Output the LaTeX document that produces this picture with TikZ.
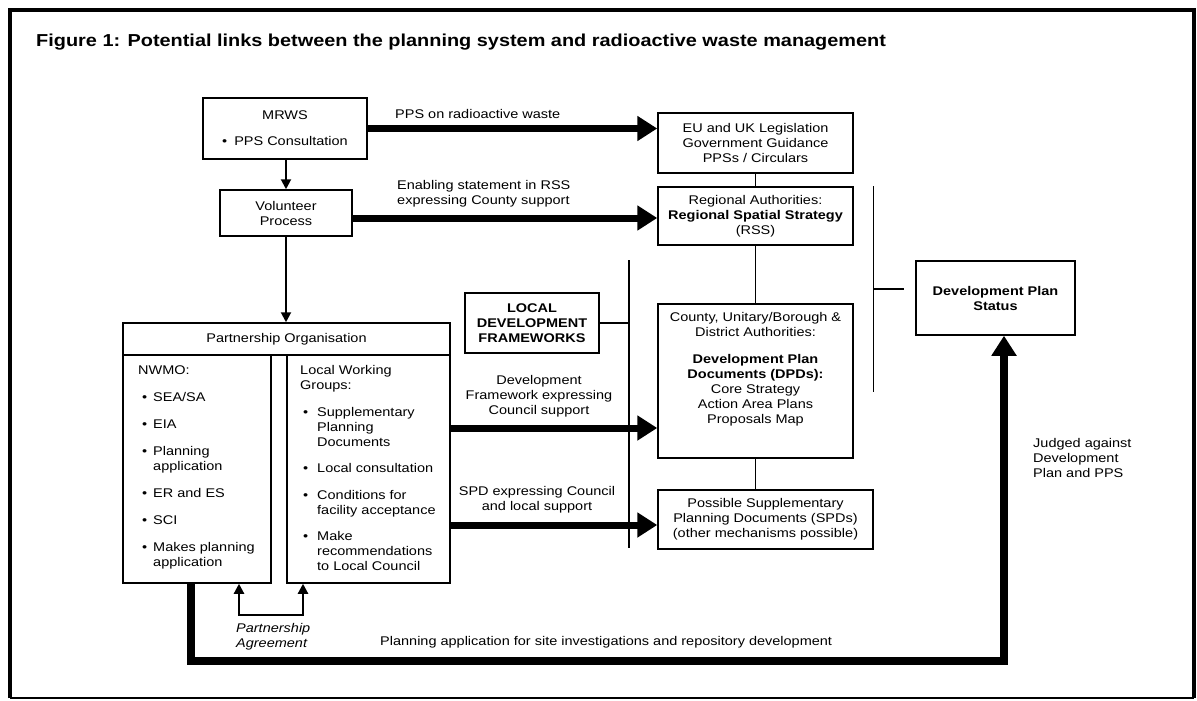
\documentclass[tikz,border=0pt]{standalone}
\usepackage{fontspec}
\setmainfont{Liberation Sans}[FakeStretch=1.15]
\usetikzlibrary{arrows.meta,calc}
\newcommand\bulA{\hspace*{4pt}\makebox[11pt][l]{•}}
\newcommand\indA{\hspace*{15pt}}
\newcommand\bulB{\hspace*{3pt}\makebox[14pt][l]{•}}
\newcommand\indB{\hspace*{17pt}}
\tikzset{
  box/.style={draw, line width=1.5pt, inner sep=0pt, align=center},
  thickarrow/.style={line width=7pt, line join=miter, -{Triangle[length=20pt,width=24pt]}},
  thinarrow/.style={line width=2pt, -{Triangle[length=10pt,width=10pt]}},
  conn/.style={line width=1.4pt},
  lbl/.style={inner sep=0pt},
}
\begin{document}
\begin{tikzpicture}[x=1pt,y=-1pt]
\fontsize{12.6pt}{15pt}\selectfont
\useasboundingbox (0,0) rectangle (1197,701);
% frame
\draw[line width=4pt] (10,698) -- (10,10) -- (1194,10) -- (1194,698);
\draw[line width=2pt] (10,698) -- (1194,698);
% title
\node[lbl, anchor=base west, font=\fontsize{17.3pt}{20pt}\selectfont\bfseries] (title) at (36,47)
  {Figure 1: Potential links between the planning system and radioactive waste management};
% boxes
\node[box, minimum width=164pt, minimum height=61pt] (mrws) at (285,128.5) {MRWS\\[11pt]•\hspace{7pt}PPS Consultation};
\node[box, minimum width=195pt, minimum height=60pt] (eu) at (755.5,143) {EU and UK Legislation\\Government Guidance\\PPSs / Circulars};
\node[box, minimum width=132pt, minimum height=46pt] (vol) at (286,213) {Volunteer\\Process};
\node[box, minimum width=195pt, minimum height=58pt] (rss) at (755.5,216) {Regional Authorities:\\\textbf{Regional Spatial Strategy}\\(RSS)};
\node[box, minimum width=134pt, minimum height=60pt, font=\bfseries] (ldf) at (532,323) {LOCAL\\DEVELOPMENT\\FRAMEWORKS};
\node[box, minimum width=195pt, minimum height=154pt] (county) at (755.5,381) {};
\node[lbl, anchor=north, align=center] (countytxt) at (755.5,312.5)
  {County, Unitary/Borough \&\\District Authorities:\\[12pt]\textbf{Development Plan}\hspace*{30pt}\\\textbf{Documents (DPDs):}\\Core Strategy\\Action Area Plans\\Proposals Map};
\node[box, minimum width=215pt, minimum height=59pt] (spd) at (765.5,519.5) {Possible Supplementary\\Planning Documents (SPDs)\\(other mechanisms possible)};
\node[box, minimum width=159pt, minimum height=74pt, font=\bfseries] (dps) at (995.5,298) {Development Plan\\Status};
\node[box, minimum width=327pt, minimum height=32pt] (po) at (286.5,339) {Partnership Organisation};
\node[box, minimum width=148pt, minimum height=228pt] (nwmo) at (197,469) {};
\node[box, minimum width=163pt, minimum height=228pt] (lwg) at (368.5,469) {};
\node[lbl, anchor=north west, align=left] (nwmotxt) at (138,365)
  {NWMO:\\[12pt]\bulA SEA/SA\\[12pt]\bulA EIA\\[12pt]\bulA Planning\\\indA application\\[12pt]\bulA ER and ES\\[12pt]\bulA SCI\\[12pt]\bulA Makes planning\\\indA application};
\node[lbl, anchor=north west, align=left] (lwgtxt) at (300,365)
  {Local Working\\Groups:\\[12pt]\bulB Supplementary\\\indB Planning\\\indB Documents\\[11pt]\bulB Local consultation\\[12pt]\bulB Conditions for\\\indB facility acceptance\\[11pt]\bulB Make\\\indB recommendations\\\indB to Local Council};
% thick arrows
\draw[thickarrow] (mrws.east) -- (mrws.east -| eu.west);
\coordinate (v1) at (vol.east |- 0,218);
\draw[thickarrow] (v1) -- (v1 -| rss.west);
\coordinate (w1) at (lwg.east |- 0,428);
\draw[thickarrow] (w1) -- (w1 -| county.west);
\coordinate (w2) at (lwg.east |- 0,525);
\draw[thickarrow] (w2) -- (w2 -| spd.west);
% thin arrows
\draw[thinarrow] (vol.north |- mrws.south) -- (vol.north);
\draw[thinarrow] (vol.south) -- (vol.south |- po.north);
% connectors
\draw[conn] (eu.south) -- (rss.north);
\draw[conn] (rss.south) -- (county.north);
\draw[conn] (county.south) -- (county.south |- spd.north);
\coordinate (lb1) at (629,260);
\coordinate (lb2) at (629,548);
\draw[conn] (lb1) -- (lb2);
\draw[conn] (ldf.east) -- (ldf.east -| lb1);
\coordinate (rb1) at (spd.east |- rss.north);
\coordinate (rb2) at (spd.east |- 0,392);
\draw[conn] (rb1) -- (rb2);
\coordinate (rbt) at (spd.east |- 0,289);
\coordinate (rbe) at (904,289);
\draw[conn] (rbt) -- (rbe);
% partnership agreement
\coordinate (pa1) at (239,615);
\coordinate (pa2) at (303,615);
\draw[line width=2.2pt, {Triangle[length=10pt,width=10pt]}-{Triangle[length=10pt,width=10pt]}]
  (pa1 |- nwmo.south) -- (pa1) -- (pa2) -- (pa2 |- lwg.south);
\node[lbl, anchor=north west, align=left, font=\itshape] (patxt) at (236,623) {Partnership\\Agreement};
% bottom path
\coordinate (c1) at (191,661);
\coordinate (c2) at (1004,661);
\draw[thickarrow, line width=7.5pt] (c1 |- nwmo.south) -- (c1) -- (c2) -- (c2 |- dps.south);
% labels
\node[lbl, anchor=west] (l1) at (395,114) {PPS on radioactive waste};
\node[lbl, anchor=west, align=left] (l2) at (397,193.5) {Enabling statement in RSS\\expressing County support};
\node[lbl, align=center] (l3) at (539,396.5) {Development\\Framework expressing\\Council support};
\node[lbl, align=center] (l4) at (537,500) {SPD expressing Council\\and local support};
\node[lbl, anchor=west] (l5) at (380,642) {Planning application for site investigations and repository development};
\node[lbl, anchor=north west, align=left] (l6) at (1033,438.5) {Judged against\\Development\\Plan and PPS};
\end{tikzpicture}
\end{document}
